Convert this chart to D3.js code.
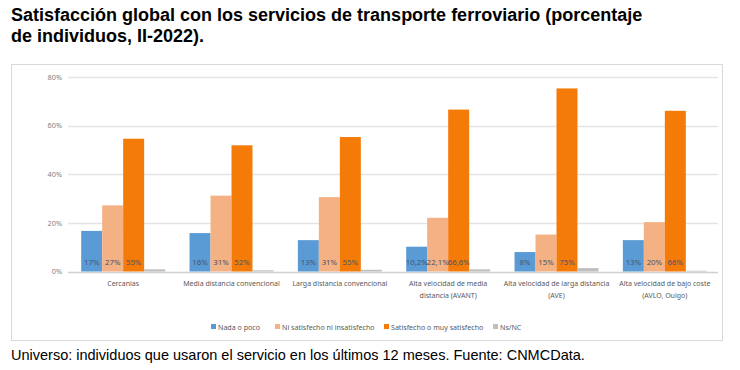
<!DOCTYPE html>
<html>
<head>
<meta charset="utf-8">
<script src="https://cdn.jsdelivr.net/npm/d3@7"></script>
<style>
  body { margin: 0; background: #fff; }
  svg { display: block; }
</style>
</head>
<body>
<div id="chart"></div>
<script>
// datos
var categorias = [
  ["Cercanias"],
  ["Media distancia convencional"],
  ["Larga distancia convencional"],
  ["Alta velocidad de media", "distancia (AVANT)"],
  ["Alta velocidad de larga distancia", "(AVE)"],
  ["Alta velocidad de bajo coste", "(AVLO, Ouigo)"]
];
var series = ["Nada o poco", "Ni satisfecho ni insatisfecho", "Satisfecho o muy satisfecho", "Ns/NC"];
var nadaPoco = [16.7, 15.8, 12.9, 10.2, 8.0, 12.9];
var niSatisfecho = [27.2, 31.2, 30.6, 22.1, 15.2, 20.3];
var satisfecho = [54.6, 51.9, 55.3, 66.6, 75.3, 66.1];
var nsnc = [0.9, 0.5, 0.7, 0.9, 1.4, 0.3];
var etiquetasNada = ["17%", "16%", "13%", "10,2%", "8%", "13%"];
var etiquetasNi = ["27%", "31%", "31%", "22,1%", "15%", "20%"];
var etiquetasSat = ["55%", "52%", "55%", "66,6%", "75%", "66%"];
var ticksY = [0, 20, 40, 60, 80];
var colores = ["#5b9bd5", "#f4b183", "#f57b09", "#bfbfbf"];

var valores = [nadaPoco, niSatisfecho, satisfecho, nsnc];
var etiquetas = [etiquetasNada, etiquetasNi, etiquetasSat, null];

var svg = d3.select("#chart").append("svg")
  .attr("width", 740).attr("height", 370);

// título
svg.append("text").attr("x", 11).attr("y", 21)
  .style("font-family", "Liberation Sans, Arial, sans-serif")
  .style("font-weight", "bold").style("font-size", "18px").attr("fill", "#000")
  .text("Satisfacción global con los servicios de transporte ferroviario (porcentaje");
svg.append("text").attr("x", 11).attr("y", 42)
  .style("font-family", "Liberation Sans, Arial, sans-serif")
  .style("font-weight", "bold").style("font-size", "18px").attr("fill", "#000")
  .text("de individuos, II-2022).");

// marco
svg.append("rect").attr("x", 11.5).attr("y", 64.5).attr("width", 711).attr("height", 276)
  .attr("fill", "#fff").attr("stroke", "#d9d9d9");

var x0 = d3.scaleBand().domain(d3.range(categorias.length)).range([69, 719]).paddingInner(0.225).paddingOuter(0.1125);
var x1 = d3.scaleBand().domain(d3.range(series.length)).range([0, x0.bandwidth()]);
var y = d3.scaleLinear().domain([0, 80]).range([271.5, 77]);

var fuente = "Noto Sans, Open Sans, sans-serif";

// rejilla
svg.append("g").selectAll("line").data(ticksY).enter().append("line")
  .attr("x1", 68).attr("x2", 718)
  .attr("y1", function(d) { return Math.round(y(d)) + 0.5; })
  .attr("y2", function(d) { return Math.round(y(d)) + 0.5; })
  .attr("stroke", function(d) { return d === 0 ? "#d0d0d0" : "#e4e4e4"; })
  .attr("stroke-width", 1.3);

// eje y
var ejeY = svg.append("g").attr("transform", "translate(62,0)")
  .call(d3.axisLeft(y).tickValues(ticksY).tickSize(0).tickFormat(function(d) { return d + "%"; }));
ejeY.select(".domain").remove();
ejeY.selectAll("text").attr("x", 0).attr("fill", "#7f7f7f")
  .style("font-family", fuente).style("font-size", "7.3px");

// barras
var grupos = svg.append("g").selectAll("g").data(categorias).enter().append("g")
  .attr("transform", function(d, i) { return "translate(" + x0(i) + ",0)"; });

grupos.selectAll("rect").data(function(d, i) {
    return valores.map(function(s, k) { return { k: k, v: s[i] }; });
  }).enter().append("rect")
  .attr("x", function(d) { return x1(d.k); })
  .attr("width", x1.bandwidth())
  .attr("y", function(d) { return y(d.v); })
  .attr("height", function(d) { return y(0) - y(d.v); })
  .attr("fill", function(d) { return colores[d.k]; });

grupos.selectAll("text.etq").data(function(d, i) {
    return [0, 1, 2].map(function(k) { return { k: k, t: etiquetas[k][i] }; });
  }).enter().append("text").attr("class", "etq")
  .attr("x", function(d) { return x1(d.k) + x1.bandwidth() / 2; })
  .attr("y", 265)
  .attr("text-anchor", "middle")
  .attr("fill", "#44546a")
  .style("font-family", fuente).style("font-size", "7.8px")
  .text(function(d) { return d.t; });

// etiquetas de categoría
var ejeX = svg.append("g").selectAll("text").data(categorias).enter().append("text")
  .attr("x", function(d, i) { return x0(i) + x0.bandwidth() / 2; })
  .attr("y", 286)
  .attr("text-anchor", "middle")
  .attr("fill", "#595959")
  .style("font-family", fuente).style("font-size", "7px");
ejeX.selectAll("tspan").data(function(d) { return d; }).enter().append("tspan")
  .attr("x", function() { return d3.select(this.parentNode).attr("x"); })
  .attr("dy", function(d, j) { return j === 0 ? 0 : 11.5; })
  .text(function(d) { return d; });

// leyenda
var posLeyenda = [211, 275, 384, 493];
var leyenda = svg.append("g").selectAll("g").data(series).enter().append("g")
  .attr("transform", function(d, i) { return "translate(" + posLeyenda[i] + ",327)"; });
leyenda.append("rect").attr("x", 0).attr("y", -3).attr("width", 5).attr("height", 5)
  .attr("fill", function(d, i) { return colores[i]; });
leyenda.append("text").attr("x", 7).attr("y", 2.5)
  .attr("fill", "#595959")
  .style("font-family", fuente).style("font-size", "7.1px")
  .text(function(d) { return d; });

// pie
svg.append("text").attr("x", 11).attr("y", 360)
  .style("font-family", "Liberation Sans, Arial, sans-serif")
  .style("font-size", "14.5px").attr("fill", "#000")
  .text("Universo: individuos que usaron el servicio en los últimos 12 meses. Fuente: CNMCData.");
</script>
</body>
</html>
